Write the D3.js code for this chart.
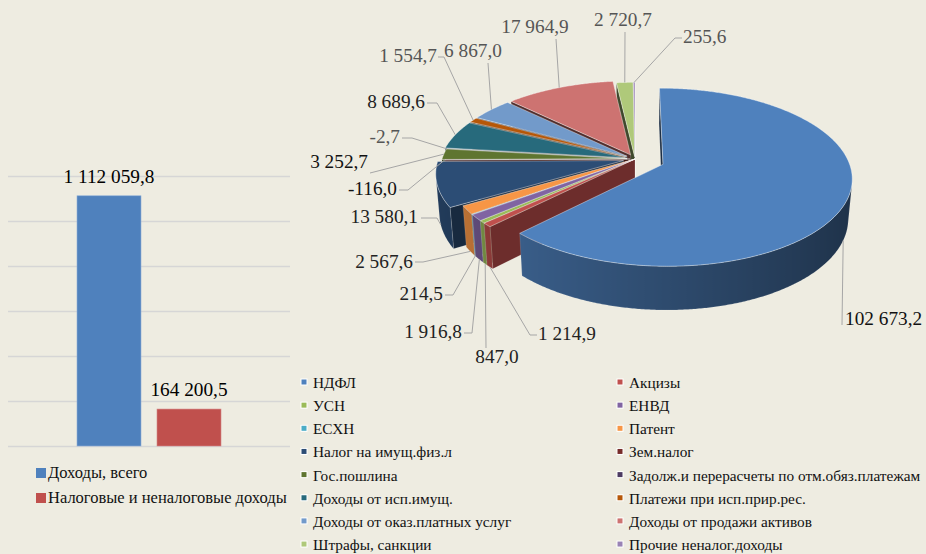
<!DOCTYPE html>
<html><head><meta charset="utf-8">
<script src="https://cdn.jsdelivr.net/npm/d3@7"></script>
<style>html,body{margin:0;padding:0;background:#EEECE1;}svg{display:block;}</style>
</head><body>
<svg id="chart" width="926" height="554"></svg>
<script>
// ---------- DATA ----------
const barCategories = ["Доходы, всего"];
const barSeries = ["Доходы, всего", "Налоговые и неналоговые доходы"];
const barValues = [1112059.8, 164200.5];
const barTicks = [0, 200000, 400000, 600000, 800000, 1000000, 1200000];
const barColors = ["#4F81BD", "#C0504D"];

const pieCategories = ["НДФЛ", "Акцизы", "УСН", "ЕНВД", "ЕСХН", "Патент",
  "Налог на имущ.физ.л", "Зем.налог", "Гос.пошлина",
  "Задолж.и перерасчеты по отм.обяз.платежам", "Доходы от исп.имущ.",
  "Платежи при исп.прир.рес.", "Доходы от оказ.платных услуг",
  "Доходы от продажи активов", "Штрафы, санкции", "Прочие неналог.доходы"];
const pieValues = [102673.2, 1214.9, 847.0, 1916.8, 214.5, 2567.6, 13580.1, -116.0,
  3252.7, -2.7, 8689.6, 1554.7, 6867.0, 17964.9, 2720.7, 255.6];
const pieColors = ["#4F81BD", "#C0504D", "#9BBB59", "#8064A2", "#4BACC6", "#F79646",
  "#2C4D75", "#772C2A", "#5F7530", "#4D3B62", "#276A7C", "#B65708",
  "#729ACA", "#CD7371", "#AFC97A", "#9983B5"];

// ---------- LAYOUT (not data) ----------
const explode = [30, 0, 0, 0, 0, 0, 12, 5, 8, 8, 10, 10, 10, 10, 5, 5];
// [textX, baselineY, anchor, attachX, attachY, elbowX, elbowY, color]
const labelLayout = [
  [845, 325, "start", 842, 325, null, null, "#111"],
  [538, 340, "start", 537, 335, 530, 335, "#222"],
  [497, 363, "middle", 486, 348, null, null, "#222"],
  [462, 338, "end", 464, 333, 472, 333, "#222"],
  [443, 300, "end", 445, 295, 453, 295, "#222"],
  [413, 268, "end", 415, 262, 423, 262, "#222"],
  [418, 223, "end", 421, 218, 437, 218, "#222"],
  [397, 195, "end", 399, 190, 408, 190, "#111"],
  [368, 168, "end", 370, 173, null, null, "#111"],
  [400, 143, "end", 402, 138, 412, 138, "#555"],
  [425, 108, "end", 427, 103, 437, 103, "#222"],
  [437, 62, "end", 438, 57, 444, 57, "#555"],
  [473, 57, "middle", 488, 63, null, null, "#555"],
  [535, 33, "middle", 556, 39, null, null, "#555"],
  [623, 26, "middle", 625, 32, null, null, "#555"],
  [683, 43, "start", 682, 38, 675, 38, "#555"]
];

const FONT = "'Liberation Serif','Times New Roman',serif";
const svg = d3.select("#chart");
const defs = svg.append("defs");
const ruFmt = d3.formatLocale({decimal: ",", thousands: "\u00a0", grouping: [3], currency: ["", ""], minus: "-"}).format(",.1f");

// ---------- BAR CHART ----------
const y = d3.scaleLinear().domain([0, 1200000]).range([446, 176]);
const x0 = d3.scaleBand().domain(barCategories).range([77, 221]);
const x1 = d3.scaleBand().domain(barSeries).range([x0(barCategories[0]), x0(barCategories[0]) + x0.bandwidth()]).paddingInner(0.2);

const gridAxis = d3.axisLeft(y).tickValues(barTicks).tickSize(-(290 - 8)).tickFormat("");
const gg = svg.append("g").attr("transform", "translate(8,0)").call(gridAxis);
gg.select(".domain").remove();
gg.selectAll(".tick line").attr("stroke", "#D6D6D6").attr("stroke-width", 1.4);

svg.append("g").selectAll("rect").data(barValues).join("rect")
  .attr("x", (d, i) => x1(barSeries[i]))
  .attr("width", x1.bandwidth())
  .attr("y", d => y(d))
  .attr("height", d => y(0) - y(d))
  .attr("fill", (d, i) => barColors[i])
  .attr("stroke", (d, i) => i === 0 ? "#8FB0D8" : "#D48785")
  .attr("stroke-width", 0.6);

svg.append("g").selectAll("text").data(barValues).join("text")
  .attr("x", (d, i) => x1(barSeries[i]) + x1.bandwidth() / 2)
  .attr("y", d => y(d) - 13)
  .attr("text-anchor", "middle")
  .attr("font-family", FONT).attr("font-size", 19.3).attr("fill", "#000")
  .text(d => ruFmt(d));

const bl = svg.append("g").selectAll("g").data(barSeries).join("g")
  .attr("transform", (d, i) => `translate(36,${468 + i * 25})`);
bl.append("rect").attr("width", 10).attr("height", 10).attr("fill", (d, i) => barColors[i]);
bl.append("text").attr("x", 12).attr("y", 10).attr("font-family", FONT).attr("font-size", 16.5)
  .attr("fill", "#111").text(d => d);

// ---------- 3D PIE ----------
const P = {cx: 635, cy: 159, R: 185, H: 45, sn: 0.463, D: 1146};
P.cs = Math.sqrt(1 - P.sn * P.sn);
const cam = [0, P.D * P.sn, -P.D * P.cs];
function proj(X, Y, Z) {
  const d = Z * P.cs - Y * P.sn;
  const s = 1 / (1 + d / P.D);
  return [P.cx + X * s, P.cy - (Y * P.cs + Z * P.sn) * s, d];
}
const arcs = d3.pie().value(d => Math.abs(d)).sort(null)(pieValues);
const faces = [];   // walls
const tops = [];
let gid = 0;
arcs.forEach((a, i) => {
  const m = (a.startAngle + a.endAngle) / 2;
  const ox = explode[i] * Math.sin(m), oz = explode[i] * Math.cos(m);
  const W = (ang, r, Y) => [ox + r * Math.sin(ang), Y, oz + r * Math.cos(ang)];
  const col = d3.rgb(pieColors[i]);
  const shade = f => d3.rgb(col.r * f, col.g * f, col.b * f).toString();
  const vis = (n, p) => n[0] * (cam[0] - p[0]) + n[1] * (cam[1] - p[1]) + n[2] * (cam[2] - p[2]) > 0;
  const n = Math.max(4, Math.ceil((a.endAngle - a.startAngle) / (Math.PI / 360)));
  const angs = d3.range(n + 1).map(k => a.startAngle + (a.endAngle - a.startAngle) * k / n);
  // top face
  const topPts = [W(0, 0, 0), ...angs.map(t => W(t, P.R, 0))].map(p => proj(...p));
  tops.push({pts: topPts, fill: pieColors[i], depth: d3.mean(topPts, p => p[2])});
  // outer wall: visible runs
  const visA = angs.map(t => vis([Math.sin(t), 0, Math.cos(t)], W(t, P.R, -P.H / 2)));
  let run = [];
  const flush = () => {
    if (run.length >= 2) {
      const topE = run.map(t => proj(...W(t, P.R, 0)));
      const botE = run.map(t => proj(...W(t, P.R, -P.H)));
      const pts = topE.concat(botE.slice().reverse());
      const xs = topE.map(p => p[0]);
      const xmin = d3.min(xs), xmax = d3.max(xs);
      const id = "wg" + (gid++);
      const g = defs.append("linearGradient").attr("id", id)
        .attr("gradientUnits", "userSpaceOnUse")
        .attr("x1", xmin).attr("x2", xmax + 0.01).attr("y1", 0).attr("y2", 0);
      const stops = run.map((t, k) => [xs[k], 0.58 - 0.2 * Math.sin(t)]).sort((p, q) => p[0] - q[0]);
      stops.forEach(s => g.append("stop")
        .attr("offset", xmax > xmin ? (s[0] - xmin) / (xmax - xmin) : 0)
        .attr("stop-color", shade(s[1])));
      faces.push({pts, fill: `url(#${id})`, depth: d3.mean(pts, p => p[2]), edge: "rgba(255,255,255,0.25)"});
    }
    run = [];
  };
  angs.forEach((t, k) => { if (visA[k]) run.push(t); else flush(); });
  flush();
  // cut faces
  [[a.startAngle, -1], [a.endAngle, 1]].forEach(([t, sg]) => {
    const nrm = [sg * Math.cos(t), 0, -sg * Math.sin(t)];
    const pm = W(t, P.R / 2, -P.H / 2);
    if (!vis(nrm, pm)) return;
    const q = [W(t, 0, 0), W(t, P.R, 0), W(t, P.R, -P.H), W(t, 0, -P.H)].map(p => proj(...p));
    const f = 0.48 + 0.12 * nrm[0];
    faces.push({pts: q, fill: shade(f), depth: d3.mean(q, p => p[2]), edge: "rgba(255,255,255,0.35)"});
  });
});
faces.sort((p, q) => q.depth - p.depth);
const line = d3.line();
const pieG = svg.append("g");
pieG.selectAll("path.wall").data(faces).join("path").attr("class", "wall")
  .attr("d", d => line(d.pts.map(p => [p[0], p[1]])) + "Z")
  .attr("fill", d => d.fill)
  .attr("stroke", d => d.edge)
  .attr("stroke-width", 0.5)
  .attr("stroke-linejoin", "round");
tops.sort((p, q) => q.depth - p.depth);
pieG.selectAll("path.top").data(tops).join("path").attr("class", "top")
  .attr("d", d => line(d.pts.map(p => [p[0], p[1]])) + "Z")
  .attr("fill", d => d.fill)
  .attr("stroke", "rgba(255,255,255,0.55)").attr("stroke-width", 0.7)
  .attr("stroke-linejoin", "round");

// label anchors on slices
const anchors = arcs.map((a, i) => {
  const m = (a.startAngle + a.endAngle) / 2;
  const r = P.R + explode[i];
  const Y = Math.cos(m) < -0.05 ? -P.H : 0;
  return proj(r * Math.sin(m), Y, r * Math.cos(m));
});
const lg = svg.append("g");
labelLayout.forEach((L, i) => {
  const pts = [[L[3], L[4]]];
  if (L[5] !== null) pts.push([L[5], L[6]]);
  pts.push([anchors[i][0], anchors[i][1]]);
  lg.append("path").attr("d", line(pts)).attr("fill", "none")
    .attr("stroke", "#A6A6A6").attr("stroke-width", 1);
});
svg.append("g").selectAll("text").data(pieValues).join("text")
  .attr("x", (d, i) => labelLayout[i][0])
  .attr("y", (d, i) => labelLayout[i][1])
  .attr("text-anchor", (d, i) => labelLayout[i][2])
  .attr("fill", (d, i) => labelLayout[i][7])
  .attr("font-family", FONT).attr("font-size", 19.3)
  .text(d => ruFmt(d));

// pie legend
const pl = svg.append("g").selectAll("g").data(pieCategories).join("g")
  .attr("transform", (d, i) => `translate(${i % 2 === 0 ? 304 : 620},${388 + Math.floor(i / 2) * 23.15})`);
pl.append("rect").attr("x", -3.5).attr("y", -9.5).attr("width", 7).attr("height", 7).attr("fill", "#fff");
pl.append("rect").attr("x", -2.5).attr("y", -8.5).attr("width", 5).attr("height", 5).attr("fill", (d, i) => pieColors[i]);
pl.append("text").attr("x", 9).attr("y", 0).attr("font-family", FONT).attr("font-size", 15.3)
  .attr("fill", "#111").text(d => d);
</script>
</body></html>
